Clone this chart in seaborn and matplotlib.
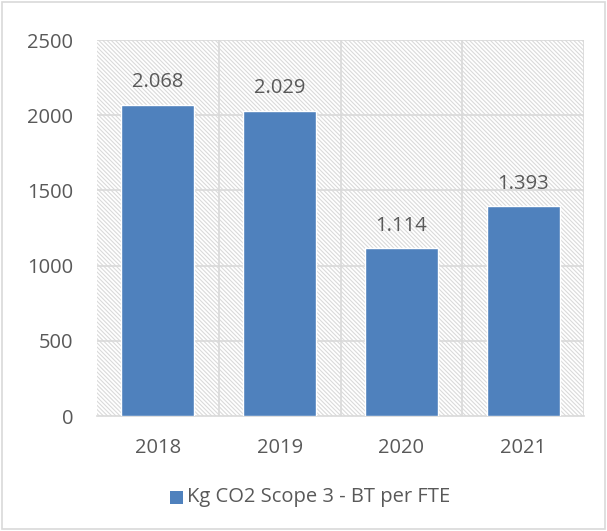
import matplotlib
matplotlib.use('Agg')
import matplotlib.pyplot as plt
import seaborn as sns
import pandas as pd
from matplotlib.patches import Rectangle

years = ['2018', '2019', '2020', '2021']
values = [2068, 2029, 1114, 1393]
value_labels = ['2.068', '2.029', '1.114', '1.393']
series_name = 'Kg CO2 Scope 3 - BT per FTE'

df = pd.DataFrame({'year': years, 'value': values})

sns.set_style('white')
plt.rcParams['font.family'] = ['Open Sans', 'DejaVu Sans']
plt.rcParams['hatch.color'] = '#DADADA'
plt.rcParams['hatch.linewidth'] = 0.8

text_col = '#595959'
bar_col = '#4F81BD'
grid_col = '#D9D9D9'
fs = 14.5

fig = plt.figure(figsize=(6.07, 5.31), dpi=100)
ax = fig.add_axes([97 / 607, 1 - 416 / 531, (584 - 97) / 607, (416 - 40) / 531])

# hatched plot area background
ax.add_patch(Rectangle((0, 0), 1, 1, transform=ax.transAxes, facecolor='white',
                       edgecolor='#DADADA', hatch='\\' * 8, linewidth=0, zorder=0))

sns.barplot(data=df, x='year', y='value', color=bar_col, width=0.6,
            saturation=1, ax=ax, zorder=3)

ax.set_ylim(0, 2500)
ax.set_xlim(-0.5, 3.5)
ax.set_yticks(range(0, 2501, 500))
ax.set_xlabel('')
ax.set_ylabel('')

for y in range(500, 2501, 500):
    ax.axhline(y, color=grid_col, lw=1.2, zorder=1)
for x in [0.5, 1.5, 2.5, 3.5]:
    ax.axvline(x, color=grid_col, lw=1.2, zorder=1)

for s in ['top', 'right', 'left']:
    ax.spines[s].set_visible(False)
ax.spines['bottom'].set_color(grid_col)
ax.spines['bottom'].set_linewidth(1.2)

ax.tick_params(axis='both', length=0, labelsize=fs, colors=text_col)
ax.tick_params(axis='y', pad=17)
ax.tick_params(axis='x', pad=16)

for i, (v, lab) in enumerate(zip(values, value_labels)):
    ax.text(i, v + 150, lab, ha='center', va='center', fontsize=fs,
            color=text_col, zorder=4)

# legend
fig.patches.append(Rectangle((170 / 607, 1 - 504 / 531), 13 / 607, 13 / 531,
                             transform=fig.transFigure, facecolor=bar_col,
                             edgecolor='none'))
fig.text(187 / 607, 1 - 497 / 531, series_name, ha='left', va='center',
         fontsize=fs, color=text_col)

# outer chart border
fig.patches.append(Rectangle((2 / 607, 2 / 531), 603 / 607, 527 / 531,
                             transform=fig.transFigure, facecolor='none',
                             edgecolor=grid_col, linewidth=1.2))

fig.savefig('out.png', dpi=100)
